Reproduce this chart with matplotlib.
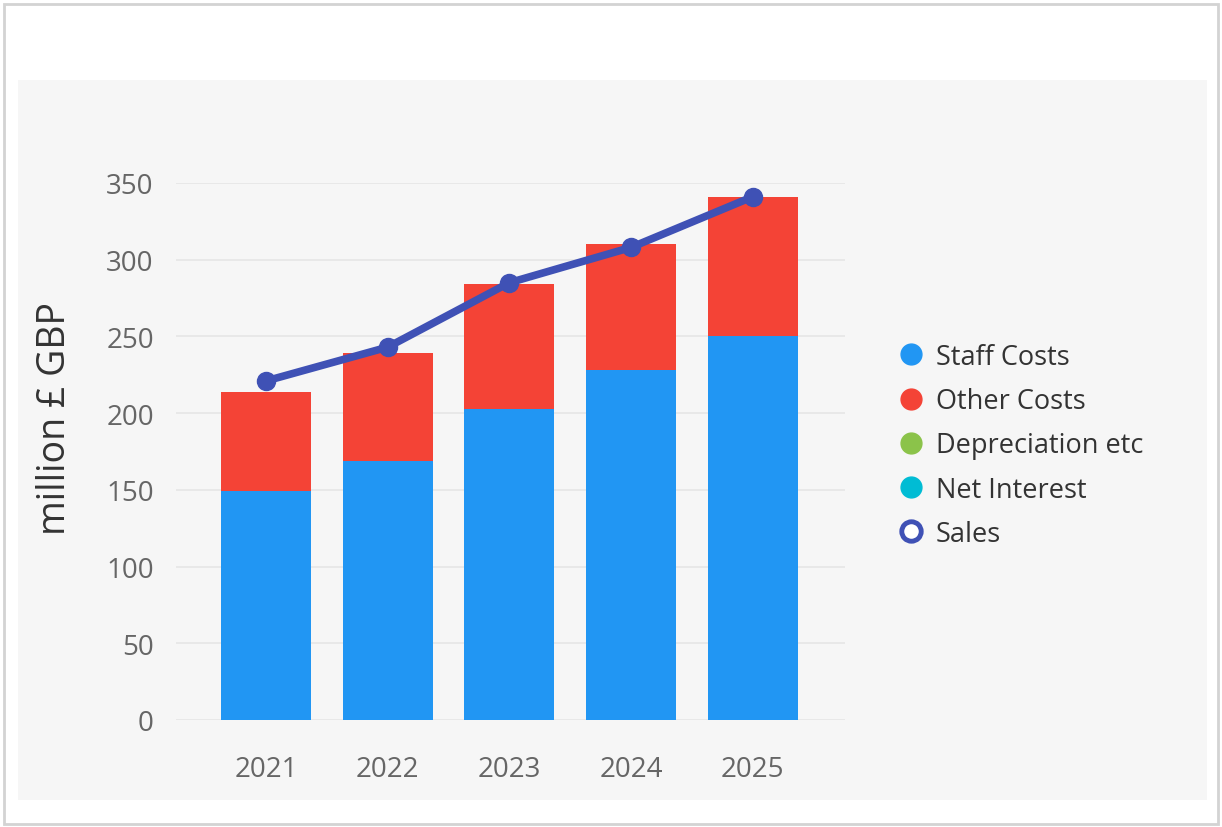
import matplotlib.pyplot as plt
from matplotlib.lines import Line2D
from matplotlib.patches import Rectangle
import numpy as np

years = ["2021", "2022", "2023", "2024", "2025"]
staff_costs = [149, 169, 203, 228, 250]
other_costs = [65, 70, 81, 82, 91]
depreciation = [0, 0, 0, 0, 0]
net_interest = [0, 0, 0, 0, 0]
sales = [221, 243, 285, 308, 341]

series_names = ["Staff Costs", "Other Costs", "Depreciation etc", "Net Interest", "Sales"]
colors = ["#2196F3", "#F44336", "#8BC34A", "#00BCD4", "#3F51B5"]

plt.rcParams['font.family'] = ['Open Sans', 'DejaVu Sans']

W, H = 1222, 828
fig = plt.figure(figsize=(W / 100, H / 100), dpi=100)
fig.patch.set_facecolor('white')

# outer border and grey panel, kept behind the axes
fig.add_artist(Rectangle((4 / W, 3 / H), 1214 / W, 820 / H, transform=fig.transFigure,
                         facecolor='white', edgecolor='#d3d3d3', linewidth=2, zorder=-2))
fig.add_artist(Rectangle((18 / W, (H - 801) / H), 1189 / W, 720 / H, transform=fig.transFigure,
                         facecolor='#f6f6f6', edgecolor='none', zorder=-1))

ax_left, ax_right = 176, 845
ax_top, ax_bot = 184, 721
ax = fig.add_axes([ax_left / W, (H - ax_bot) / H, (ax_right - ax_left) / W, (ax_bot - ax_top) / H])
ax.set_facecolor('none')

x = np.arange(len(years))
bw = 0.74
bottom = np.zeros(len(years))
for vals, col in zip([staff_costs, other_costs, depreciation, net_interest], colors[:4]):
    ax.bar(x, vals, bw, bottom=bottom, color=col, zorder=2)
    bottom = bottom + np.array(vals)

ax.plot(x, sales, color=colors[4], linewidth=5.5, marker='o', markersize=13,
        zorder=4, clip_on=False, solid_capstyle='round')

ax.set_ylim(0, 350)
ax.set_xlim(-0.74, 4.76)
ax.set_yticks(range(0, 351, 50))
ax.set_xticks(x)
ax.set_xticklabels(years)
ax.grid(axis='y', color='#e6e6e6', linewidth=1.2, zorder=0)
ax.set_axisbelow(True)
for s in ax.spines.values():
    s.set_visible(False)
ax.tick_params(length=0, labelsize=20, colors='#666666')
ax.tick_params(axis='y', pad=16)
ax.tick_params(axis='x', pad=25)
ax.set_ylabel("million £ GBP", fontsize=27, color='#333333')
ax.yaxis.set_label_coords(-0.152, 0.564)

handles = [Line2D([], [], linestyle='none', marker='o', markersize=15,
                  markerfacecolor=c, markeredgecolor=c) for c in colors[:4]]
handles.append(Line2D([], [], linestyle='none', marker='o', markersize=14,
                      markerfacecolor='white', markeredgecolor=colors[4], markeredgewidth=3.5))
fig.legend(handles, series_names, loc='upper left',
           bbox_to_anchor=(887 / W, (H - 333) / H), frameon=False,
           fontsize=19.5, labelcolor='#333333', handlelength=1.0,
           handletextpad=0.4, labelspacing=0.6, borderaxespad=0)

fig.savefig("out.png", dpi=100)
